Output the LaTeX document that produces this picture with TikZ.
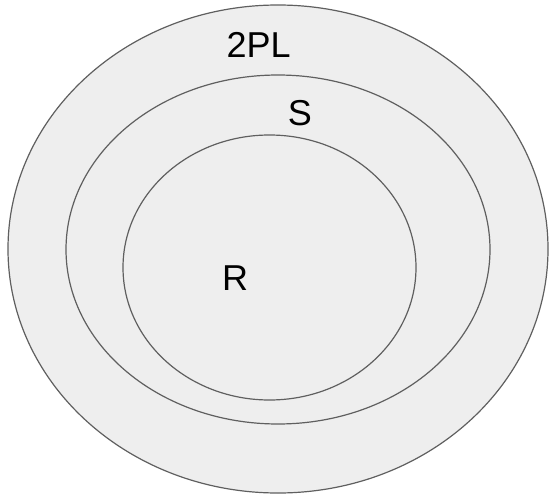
\documentclass[tikz,border=0pt]{standalone}
\usepackage{fontspec}
\setmainfont{Liberation Sans}
\usetikzlibrary{calc}
\definecolor{setfill}{HTML}{EEEEEE}
\definecolor{setline}{HTML}{5F5F5F}

\begin{document}
\begin{tikzpicture}[x=1pt,y=-1pt,
		setline/.style={draw=setline, fill=setfill, line width=1.2pt},
		setname/.style={font=\fontsize{36}{40}\selectfont, inner sep=0pt}]
			% canvas
			\useasboundingbox (0,0) rectangle (549,495);
			% classes
			\coordinate (C2PL) at (278,249);
			\coordinate (CS) at (278,249.5);
			\coordinate (CR) at (269.5,267.5);
			\draw[setline] (C2PL) ellipse [x radius=270, y radius=244];
			\draw[setline] (CS) ellipse [x radius=212, y radius=174.5];
			\draw[setline] (CR) ellipse [x radius=146.5, y radius=132.5];
			% labels
			\node[setname] (twopl) at (258.7,44.7) {2PL};
			\node[setname] (s) at (300,112.8) {S};
			\node[setname] (r) at (235,278) {R};
		\end{tikzpicture}
\end{document}
